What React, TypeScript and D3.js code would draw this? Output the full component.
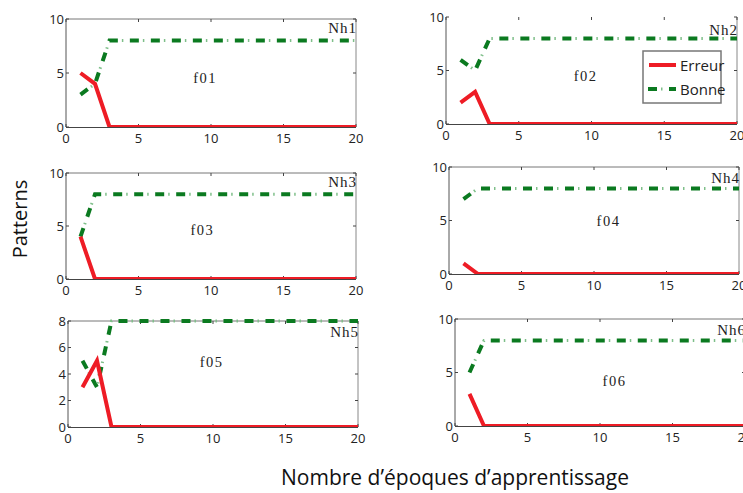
import React from "react";
import * as d3 from "d3";

const epochs = d3.range(1, 21);
// Erreur (red) and Bonne (green) series for each panel, values at epochs 1..20
const erreur1 = [5, 4, 0, 0, 0, 0, 0, 0, 0, 0, 0, 0, 0, 0, 0, 0, 0, 0, 0, 0];
const bonne1 = [3, 4, 8, 8, 8, 8, 8, 8, 8, 8, 8, 8, 8, 8, 8, 8, 8, 8, 8, 8];
const erreur2 = [2, 3, 0, 0, 0, 0, 0, 0, 0, 0, 0, 0, 0, 0, 0, 0, 0, 0, 0, 0];
const bonne2 = [6, 5, 8, 8, 8, 8, 8, 8, 8, 8, 8, 8, 8, 8, 8, 8, 8, 8, 8, 8];
const erreur3 = [4, 0, 0, 0, 0, 0, 0, 0, 0, 0, 0, 0, 0, 0, 0, 0, 0, 0, 0, 0];
const bonne3 = [4, 8, 8, 8, 8, 8, 8, 8, 8, 8, 8, 8, 8, 8, 8, 8, 8, 8, 8, 8];
const erreur4 = [1, 0, 0, 0, 0, 0, 0, 0, 0, 0, 0, 0, 0, 0, 0, 0, 0, 0, 0, 0];
const bonne4 = [7, 8, 8, 8, 8, 8, 8, 8, 8, 8, 8, 8, 8, 8, 8, 8, 8, 8, 8, 8];
const erreur5 = [3, 5, 0, 0, 0, 0, 0, 0, 0, 0, 0, 0, 0, 0, 0, 0, 0, 0, 0, 0];
const bonne5 = [5, 3, 8, 8, 8, 8, 8, 8, 8, 8, 8, 8, 8, 8, 8, 8, 8, 8, 8, 8];
const erreur6 = [3, 0, 0, 0, 0, 0, 0, 0, 0, 0, 0, 0, 0, 0, 0, 0, 0, 0, 0, 0];
const bonne6 = [5, 8, 8, 8, 8, 8, 8, 8, 8, 8, 8, 8, 8, 8, 8, 8, 8, 8, 8, 8];

const xTicks = [0, 5, 10, 15, 20];
const yTicks10 = [0, 5, 10];
const yTicks8 = [0, 2, 4, 6, 8];
const funcLabels = ["f01", "f02", "f03", "f04", "f05", "f06"];
const nhLabels = ["Nh1", "Nh2", "Nh3", "Nh4", "Nh5", "Nh6"];
const legendLabels = ["Erreur", "Bonne"];
const xLabel = "Nombre d\u2019époques d\u2019apprentissage";
const yLabel = "Patterns";

const RED = "#ee1c25";
const GREEN = "#0b7a20";
const LIGHTGREEN = "#7fbf8a";

type Panel = {
  x0: number; x1: number; y0: number; y1: number;
  ymax: number; yticks: number[];
  err: number[]; bon: number[];
  fx: number; fy: number; nhY: number; top: boolean;
};

const panels: Panel[] = [
  { x0: 66, x1: 356, y0: 19, y1: 127, ymax: 10, yticks: yTicks10, err: erreur1, bon: bonne1, fx: 9.6, fy: 4.1, nhY: 33, top: true },
  { x0: 446, x1: 737, y0: 17, y1: 124, ymax: 10, yticks: yTicks10, err: erreur2, bon: bonne2, fx: 9.6, fy: 4.0, nhY: 35, top: false },
  { x0: 66, x1: 356, y0: 173, y1: 279, ymax: 10, yticks: yTicks10, err: erreur3, bon: bonne3, fx: 9.4, fy: 4.15, nhY: 187, top: true },
  { x0: 449, x1: 739, y0: 167, y1: 274, ymax: 10, yticks: yTicks10, err: erreur4, bon: bonne4, fx: 11.0, fy: 4.5, nhY: 183, top: true },
  { x0: 68, x1: 358, y0: 321, y1: 427, ymax: 8, yticks: yTicks8, err: erreur5, bon: bonne5, fx: 9.9, fy: 4.5, nhY: 337, top: true },
  { x0: 455, x1: 745, y0: 319, y1: 426, ymax: 10, yticks: yTicks10, err: erreur6, bon: bonne6, fx: 11.0, fy: 3.7, nhY: 335, top: true },
];

const SANS = "'Open Sans', 'Noto Sans', sans-serif";
const SERIF = "'Liberation Serif', 'DejaVu Serif', serif";

function GreenLine({ d }: { d: string }) {
  return (
    <g fill="none">
      <path d={d} stroke={GREEN} strokeWidth={4} strokeDasharray="9 12" />
      <path d={d} stroke={LIGHTGREEN} strokeWidth={3} strokeDasharray="0 13 1.5 6.5" />
    </g>
  );
}

function PanelView({ p, i }: { p: Panel; i: number }) {
  const x = d3.scaleLinear().domain([0, 20]).range([p.x0, p.x1]);
  const y = d3.scaleLinear().domain([0, p.ymax]).range([p.y1, p.y0]);
  const line = d3.line<number>().x((_, k) => x(epochs[k])).y((v) => y(v));
  const tl = 3;
  return (
    <g>
      <defs>
        <clipPath id={`clip${i}`}>
          <rect x={p.x0 - 3} y={p.y0 - 3} width={p.x1 - p.x0 + 6} height={p.y1 - p.y0 + 3.5} />
        </clipPath>
      </defs>
      {p.top && <line x1={p.x0} x2={p.x1} y1={p.y0} y2={p.y0} stroke="#777" strokeWidth={1} />}
      <line x1={p.x1} x2={p.x1} y1={p.y0} y2={p.y1} stroke="#888" strokeWidth={1} />
      <line x1={p.x0} x2={p.x0} y1={p.y0} y2={p.y1} stroke="#555" strokeWidth={1} />
      {xTicks.map((t) => (
        <g key={"x" + t}>
          <line x1={x(t)} x2={x(t)} y1={p.y1} y2={p.y1 - tl} stroke="#444" />
          <line x1={x(t)} x2={x(t)} y1={p.y0} y2={p.y0 + tl} stroke="#444" />
          <text x={x(t)} y={p.y1 + 16} textAnchor="middle" fontFamily={SANS} fontSize={13} fill="#222">{t}</text>
        </g>
      ))}
      {p.yticks.map((t) => (
        <g key={"y" + t}>
          <line x1={p.x0} x2={p.x0 + tl} y1={y(t)} y2={y(t)} stroke="#444" />
          <line x1={p.x1} x2={p.x1 - tl} y1={y(t)} y2={y(t)} stroke="#444" />
          <text x={p.x0 - 2} y={y(t) + 4.5} textAnchor="end" fontFamily={SANS} fontSize={13} fill="#222">{t}</text>
        </g>
      ))}
      <g clipPath={`url(#clip${i})`}>
        <GreenLine d={line(p.bon) || ""} />
        <path d={line(p.err) || ""} fill="none" stroke={RED} strokeWidth={4} strokeLinejoin="miter" />
      </g>
      <line x1={p.x0} x2={p.x1} y1={p.y1 + 0.5} y2={p.y1 + 0.5} stroke="#444" strokeWidth={1} />
      <text x={x(p.fx)} y={y(p.fy)} textAnchor="middle" fontFamily={SERIF} fontSize={14.5} letterSpacing={1.5} fill="#222">{funcLabels[i]}</text>
      <text x={p.x1 + 1} y={p.nhY} textAnchor="end" fontFamily={SERIF} fontSize={15} letterSpacing={1} fill="#222">{nhLabels[i]}</text>
    </g>
  );
}

function Legend() {
  const bx = 643, by = 51, bw = 78, bh = 52;
  const rows = [by + 14, by + 38];
  return (
    <g>
      <rect x={bx} y={by} width={bw} height={bh} fill="#fff" stroke="#777" strokeWidth={1.5} />
      <line x1={bx + 6} x2={bx + 33} y1={rows[0]} y2={rows[0]} stroke={RED} strokeWidth={4} />
      <GreenLine d={`M${bx + 5},${rows[1]}L${bx + 33},${rows[1]}`} />
      <text x={bx + 37} y={rows[0] + 6} fontFamily={SANS} fontSize={15} fill="#222">{legendLabels[0]}</text>
      <text x={bx + 37} y={rows[1] + 6} fontFamily={SANS} fontSize={15} fill="#222">{legendLabels[1]}</text>
    </g>
  );
}

export default function App() {
  return (
    <svg width={743} height={493} style={{ position: "absolute", left: 0, top: 0, background: "#fff" }}>
      <rect x={0} y={0} width={743} height={493} fill="#fff" />
      {panels.map((p, i) => (
        <PanelView key={i} p={p} i={i} />
      ))}
      <Legend />
      <text transform="translate(27,219) rotate(-90)" textAnchor="middle" fontFamily={SANS} fontSize={20} fill="#111">{yLabel}</text>
      <text x={455} y={485} textAnchor="middle" fontFamily={SANS} fontSize={21} fill="#111">{xLabel}</text>
    </svg>
  );
}
